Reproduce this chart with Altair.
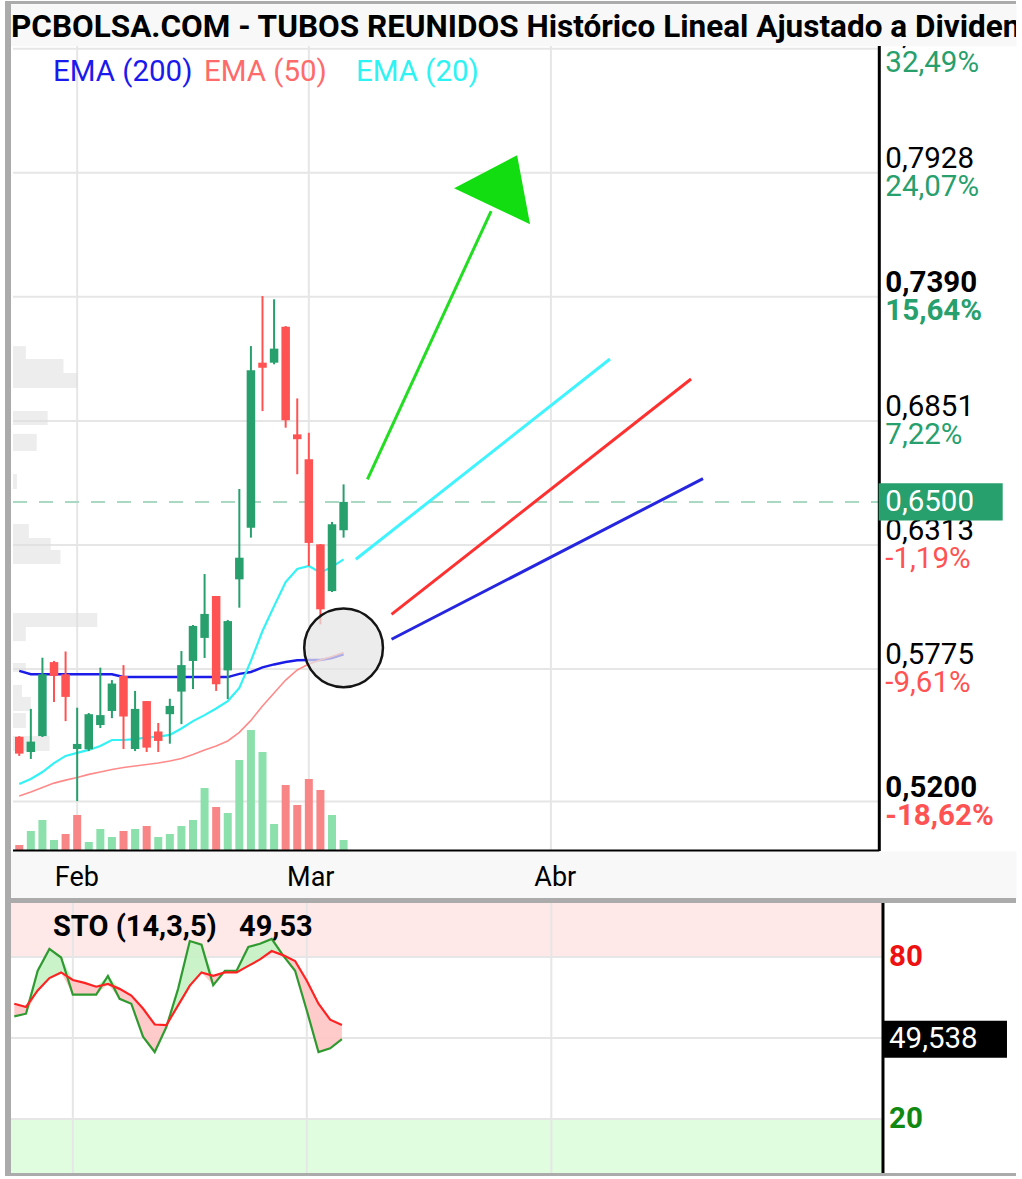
import altair as alt
import pandas as pd

TITLE = "PCBOLSA.COM - TUBOS REUNIDOS Histórico Lineal Ajustado a Dividendos"

# ---------------- data ----------------
sessions = list(range(29))
opens = [0.5481, 0.5415, 0.5484, 0.5805, 0.5752, 0.5428, 0.5427, 0.5532, 0.5593, 0.5745,
         0.5428, 0.5636, 0.5504, 0.5579, 0.5677, 0.5810, 0.5910, 0.6092, 0.5769, 0.6164,
         0.6388, 0.7104, 0.7104, 0.7260, 0.6793, 0.6685, 0.6316, 0.6113, 0.6377]
highs = [0.5484, 0.5602, 0.5824, 0.5810, 0.5851, 0.5607, 0.5584, 0.5781, 0.5727, 0.5792,
         0.5680, 0.5636, 0.5541, 0.5646, 0.5853, 0.5966, 0.6187, 0.6092, 0.5988, 0.6556,
         0.7176, 0.7393, 0.7379, 0.7263, 0.6949, 0.6800, 0.6317, 0.6413, 0.6576]
lows = [0.5398, 0.5385, 0.5480, 0.5632, 0.5549, 0.5202, 0.5419, 0.5519, 0.5562, 0.5428,
        0.5419, 0.5415, 0.5415, 0.5451, 0.5536, 0.5688, 0.5823, 0.5680, 0.5645, 0.6041,
        0.6345, 0.6894, 0.7097, 0.6822, 0.6620, 0.6222, 0.5969, 0.6109, 0.6345]
closes = [0.5408, 0.5460, 0.5752, 0.5745, 0.5654, 0.5450, 0.5579, 0.5575, 0.5712, 0.5569,
          0.5602, 0.5434, 0.5463, 0.5615, 0.5792, 0.5962, 0.6014, 0.5709, 0.5983, 0.6258,
          0.7071, 0.7082, 0.7165, 0.6854, 0.6772, 0.6322, 0.6034, 0.6403, 0.6500]
volumes = [60, 200, 310, 110, 170, 360, 90, 220, 140, 200, 220, 250, 140, 170, 250, 310,
           630, 440, 380, 910, 1210, 990, 270, 660, 460, 720, 610, 360, 110]
vol_up = [0, 1, 1, 1, 0, 0, 1, 1, 1, 0, 1, 0, 1, 1, 1, 1, 1, 0, 1, 1, 1, 1, 1, 0, 0, 0, 0, 1, 1]

ema200 = [0.5767, 0.5752, 0.5752, 0.5752, 0.5752, 0.5752, 0.5752, 0.5752, 0.5752, 0.5740,
          0.5740, 0.5740, 0.5740, 0.5740, 0.5740, 0.5740, 0.5740, 0.5740, 0.5740, 0.5754,
          0.5762, 0.5782, 0.5795, 0.5805, 0.5813, 0.5814, 0.5814, 0.5823, 0.5839]
ema50 = [0.5224, 0.5241, 0.5261, 0.5280, 0.5293, 0.5304, 0.5318, 0.5328, 0.5339, 0.5348,
         0.5354, 0.5361, 0.5367, 0.5376, 0.5387, 0.5404, 0.5424, 0.5441, 0.5463, 0.5500,
         0.5552, 0.5615, 0.5671, 0.5727, 0.5771, 0.5797, 0.5814, 0.5829, 0.5847]
ema20 = [0.5276, 0.5298, 0.5328, 0.5367, 0.5398, 0.5411, 0.5424, 0.5441, 0.5467, 0.5467,
         0.5471, 0.5478, 0.5482, 0.5489, 0.5517, 0.5549, 0.5575, 0.5604, 0.5636, 0.5693,
         0.5810, 0.5940, 0.6048, 0.6152, 0.6209, 0.6222, 0.6194, 0.6218, 0.6251]

sto_k = [58.0, 59.0, 74.9, 83.0, 79.8, 66.1, 66.1, 66.1, 73.0, 64.5, 62.7, 50.5, 44.8, 54.1,
         68.2, 85.9, 84.6, 69.6, 74.9, 74.9, 83.7, 84.9, 86.7, 80.4, 74.9, 60.2, 44.8, 46.2, 49.54]
sto_d = [62.7, 61.5, 67.6, 72.2, 74.3, 71.5, 70.4, 69.0, 70.0, 68.2, 65.7, 60.9, 55.0, 54.8,
         62.1, 69.4, 74.3, 73.0, 74.3, 74.3, 76.7, 79.1, 82.2, 80.6, 78.5, 71.2, 62.7, 56.8, 54.8]
sto_name = "STO (14,3,5)"
sto_short = "49,53"
sto_last = 49.538

# volume-at-price profile (price band low/high, length in session units)
prof_lo = [0.7120, 0.7059, 0.6994, 0.6834, 0.6721, 0.6556, 0.6343, 0.6291, 0.6231, 0.5957,
           0.5896, 0.5762, 0.5654, 0.5593, 0.5519, 0.5419]
prof_hi = [0.7176, 0.7120, 0.7059, 0.6894, 0.6795, 0.6621, 0.6404, 0.6343, 0.6291, 0.6018,
           0.5957, 0.5801, 0.5706, 0.5654, 0.5584, 0.5484]
prof_len = [0.57, 3.82, 5.02, 2.45, 1.51, -0.20, 0.83, 2.71, 3.56, 6.73,
            0.57, 0.57, 0.23, 1.00, 0.57, 2.62]

level_prices = [0.8466, 0.7928, 0.7390, 0.6851, 0.6313, 0.5775, 0.5200]
level_pcts = [32.49, 24.07, 15.64, 7.22, -1.19, -9.61, -18.62]
level_bold = [False, False, True, False, False, False, True]

month_labels = ["Feb", "Mar", "Abr"]
month_pos = [5, 25, 45.9]

# trend projections (session, price)
proj20_i, proj20_p = [29.06, 51.0], [0.6251, 0.7120]
proj50_i, proj50_p = [32.14, 58.0], [0.6012, 0.7033]
proj200_i, proj200_p = [32.14, 59.03], [0.5904, 0.6601]
arrow_i, arrow_p = [30.06, 40.74], [0.6598, 0.7762]
arrow_head = (41.54, 0.7857)
circle_pt = (28.0, 0.5867)

last_price = closes[-1]

# ---------------- styling ----------------
XMIN, XMAX, XAXIS, XBOX = -0.54, 85.62, 74.25, 79.55
PMIN, PMAX = 0.49855, 0.84779
VOLMAX = 8050.0
W = 1008
GRID = "#e6e6e6"
UP, DOWN = "#27a06d", "#ff5252"
VUP, VDOWN = "#8be0ab", "#f98686"
FONT = "Roboto"
LBL = 29.5

xs = alt.Scale(domain=[XMIN, XMAX], nice=False, zero=False)
ys = alt.Scale(domain=[PMIN, PMAX], nice=False, zero=False)
sy = alt.Scale(domain=[0, 100], nice=False, zero=False)


def X(f):
    return alt.X(f, type="quantitative", scale=xs, axis=None)


def Y(f, sc=ys):
    return alt.Y(f, type="quantitative", scale=sc, axis=None)


def df(**cols):
    d = pd.DataFrame(cols)
    d["x0"] = XMIN
    d["xa"] = XAXIS
    d["xb"] = XBOX
    return d


cdf = df(i=sessions, open=opens, high=highs, low=lows, close=closes, vol=volumes, vup=vol_up)
cdf["up"] = cdf["close"] >= cdf["open"]
months = df(pos=month_pos, label=month_labels)
levels = df(price=level_prices, pct=level_pcts, bold=level_bold,
            plab=[f"{p:.4f}".replace(".", ",") for p in level_prices],
            pctlab=[f"{v:.2f}%".replace(".", ",") for v in level_pcts])
prof = df(lo=prof_lo, hi=prof_hi, len=prof_len)
emas = df(i=sessions, e200=ema200, e50=ema50, e20=ema20)
lastdf = df(p=[last_price], t=[f"{last_price:.4f}".replace('.', ',')])
edges = df(pmin=[PMIN])

candle_color = alt.condition("datum.up", alt.value(UP), alt.value(DOWN))

# ---------------- main panel ----------------
vgrid = alt.Chart(months).mark_rule(color=GRID, strokeWidth=2).encode(x=X("pos"))
hgrid = alt.Chart(levels).mark_rule(color=GRID, strokeWidth=2).encode(
    x=X("x0"), x2="xa:Q", y=Y("price"))
profile = alt.Chart(prof).mark_rect(color="#dcdcdc", opacity=0.5).encode(
    x=X("x0"), x2="len:Q", y=Y("lo"), y2="hi:Q")
# volume drawn on its own vertical range at the bottom of the price panel
volbars = alt.Chart(cdf).transform_calculate(
    vtop=f"{PMIN} + datum.vol * {(PMAX - PMIN) / VOLMAX}", vbase=f"{PMIN}").mark_bar(size=8).encode(
    x=X("i"), y=Y("vtop"), y2="vbase:Q",
    color=alt.condition("datum.vup == 1", alt.value(VUP), alt.value(VDOWN)))
lastline = alt.Chart(lastdf).mark_rule(
    color="#a9d9c2", strokeWidth=2, strokeDash=[14, 12]).encode(
    x=X("x0"), x2="xa:Q", y=Y("p"))
l200 = alt.Chart(emas).mark_line(color="#1c1ce8", strokeWidth=2.5).encode(x=X("i"), y=Y("e200"))
l50 = alt.Chart(emas).mark_line(color="#ff8a8a", strokeWidth=1.6).encode(x=X("i"), y=Y("e50"))
l20 = alt.Chart(emas).mark_line(color="#33f2f5", strokeWidth=2.2).encode(x=X("i"), y=Y("e20"))
wicks = alt.Chart(cdf).mark_rule(strokeWidth=2).encode(
    x=X("i"), y=Y("low"), y2="high:Q", color=candle_color)
bodies = alt.Chart(cdf).mark_bar(size=8.5).encode(
    x=X("i"), y=Y("open"), y2="close:Q", color=candle_color)
circle = alt.Chart(df(i=[circle_pt[0]], p=[circle_pt[1]])).mark_point(
    shape="circle", size=6200, filled=True, fill="#e4e4e4", fillOpacity=0.72,
    stroke="#151515", strokeWidth=2.5, opacity=1).encode(x=X("i"), y=Y("p"))


def seg(ii, pp, color, width=3):
    return alt.Chart(df(i=ii, p=pp)).mark_line(
        color=color, strokeWidth=width).encode(x=X("i"), y=Y("p"))


p20 = seg(proj20_i, proj20_p, "#40f4ff")
p50 = seg(proj50_i, proj50_p, "#ff3030")
p200 = seg(proj200_i, proj200_p, "#2626e0")
parrow = seg(arrow_i, arrow_p, "#22dd22")
phead = alt.Chart(df(i=[arrow_head[0]], p=[arrow_head[1]])).mark_point(
    shape="M-1,-0.02L0.36,-0.73L0.64,0.76Z", size=8575, filled=True,
    fill="#11dd11", opacity=1, strokeWidth=0).encode(x=X("i"), y=Y("p"))

raxis = alt.Chart(edges).mark_rule(color="black", strokeWidth=3).encode(x=X("xa"))
baxis = alt.Chart(edges).mark_rule(color="black", strokeWidth=3).encode(
    x=X("x0"), x2="xa:Q", y=Y("pmin"))

plab_n = alt.Chart(levels).transform_filter("!datum.bold").mark_text(
    align="left", baseline="middle", dx=6, dy=-14, fontSize=LBL, font=FONT, clip=True,
    color="black").encode(x=X("xa"), y=Y("price"), text="plab:N")
plab_b = alt.Chart(levels).transform_filter("datum.bold").mark_text(
    align="left", baseline="middle", dx=6, dy=-14, fontSize=LBL, font=FONT, fontWeight="bold",
    clip=True, color="black").encode(x=X("xa"), y=Y("price"), text="plab:N")
pct_color = alt.condition("datum.pct >= 0", alt.value(UP), alt.value(DOWN))
pct_n = alt.Chart(levels).transform_filter("!datum.bold").mark_text(
    align="left", baseline="middle", dx=6, dy=14, fontSize=LBL, font=FONT, clip=True).encode(
    x=X("xa"), y=Y("price"), text="pctlab:N", color=pct_color)
pct_b = alt.Chart(levels).transform_filter("datum.bold").mark_text(
    align="left", baseline="middle", dx=6, dy=14, fontSize=LBL, font=FONT, fontWeight="bold",
    clip=True).encode(x=X("xa"), y=Y("price"), text="pctlab:N", color=pct_color)

lastbox = alt.Chart(lastdf).mark_point(
    shape="M-1,-0.3L1,-0.3L1,0.3L-1,0.3Z", size=15376, filled=True, fill=UP,
    opacity=1, strokeWidth=0).encode(x=X("xb"), y=Y("p"))
lasttxt = alt.Chart(lastdf).mark_text(
    align="left", baseline="middle", dx=6, fontSize=LBL, font=FONT, color="white").encode(
    x=X("xa"), y=Y("p"), text="t:N")

legend_names = ["EMA (200)", "EMA (50)", "EMA (20)"]
legend_colors = ["#1a1aee", "#ff6a6a", "#2df3f3"]
legend_x = [45, 196, 348]
legend = [alt.Chart(pd.DataFrame({"t": [n]})).mark_text(
    align="left", baseline="middle", fontSize=29.5, font=FONT, color=c).encode(
    x=alt.value(xp), y=alt.value(26), text="t:N")
    for n, c, xp in zip(legend_names, legend_colors, legend_x)]

main = alt.layer(
    vgrid, hgrid, profile, volbars, lastline, l200, l50, l20, wicks, bodies, circle,
    p20, p50, p200, parrow, phead, raxis, baxis, plab_n, plab_b, pct_n, pct_b,
    lastbox, lasttxt, *legend).properties(
    width=W, height=805, view=alt.ViewBackground(fill="white", stroke="transparent"))

# ---------------- title & axis band ----------------
title = alt.Chart(pd.DataFrame({"t": [TITLE]})).mark_text(
    align="left", baseline="middle", fontSize=31.5, font=FONT, fontWeight="bold",
    color="black", clip=True).encode(x=alt.value(3), y=alt.value(24), text="t:N").properties(
    width=W, height=42, view=alt.ViewBackground(fill="#f8f8f8", stroke="transparent"))

band = alt.Chart(months).mark_text(
    baseline="middle", fontSize=27, font=FONT, color="black", dx=4).encode(
    x=X("pos"), y=alt.value(27), text="label:N").properties(
    width=W, height=47, view=alt.ViewBackground(fill="#f8f8f8", stroke="transparent"))


def filler(w, h, color):
    return alt.Chart(pd.DataFrame({"a": [0]})).mark_rect(color=color).encode(
        x=alt.value(0), x2=alt.value(w), y=alt.value(0), y2=alt.value(h)).properties(
        width=w, height=h)


# ---------------- stochastic panel ----------------
sdf = df(i=sessions, k=sto_k, d=sto_d)
bands = alt.Chart(df(lo=[80, 0], hi=[100, 20], c=["#ffe8e8", "#e0fde0"])).mark_rect().encode(
    x=X("x0"), x2="xa:Q", y=Y("lo", sy), y2="hi:Q", color=alt.Color("c:N", scale=None))
s_hgrid = alt.Chart(df(v=[80, 50, 20])).mark_rule(color=GRID, strokeWidth=2).encode(
    x=X("x0"), x2="xa:Q", y=Y("v", sy))
s_vgrid = alt.Chart(months).mark_rule(color=GRID, strokeWidth=2).encode(x=X("pos"))
g_area = alt.Chart(sdf).transform_calculate(hi="max(datum.k, datum.d)").mark_area(
    color="#c4f2c4", opacity=0.9).encode(x=X("i"), y=Y("d", sy), y2="hi:Q")
r_area = alt.Chart(sdf).transform_calculate(lo="min(datum.k, datum.d)").mark_area(
    color="#ffc4c4", opacity=0.9).encode(x=X("i"), y=Y("lo", sy), y2="d:Q")
k_line = alt.Chart(sdf).mark_line(color="#2f9a2f", strokeWidth=2.2).encode(x=X("i"), y=Y("k", sy))
d_line = alt.Chart(sdf).mark_line(color="#ff2222", strokeWidth=2.2).encode(x=X("i"), y=Y("d", sy))
s_raxis = alt.Chart(edges).mark_rule(color="black", strokeWidth=3).encode(x=X("xa"))
s_levels = alt.Chart(df(v=[80, 20], t=["80", "20"], c=["#ee1111", "#118811"], off=[0, 3])).mark_text(
    align="left", baseline="middle", dx=6, fontSize=LBL, font=FONT, fontWeight="bold").encode(
    x=X("xa"), y=Y("v", sy), text="t:N", color=alt.Color("c:N", scale=None))
stodf = df(v=[sto_last], t=[f"{sto_last:.3f}".replace('.', ',')])
s_box = alt.Chart(stodf).mark_point(
    shape="M-1,-0.3L1,-0.3L1,0.3L-1,0.3Z", size=15376, filled=True, fill="black",
    opacity=1, strokeWidth=0).encode(x=X("xb"), y=Y("v", sy))
s_boxtxt = alt.Chart(stodf).mark_text(
    align="left", baseline="middle", dx=6, fontSize=LBL, font=FONT, color="white").encode(
    x=X("xa"), y=Y("v", sy), text="t:N")
s_name = alt.Chart(pd.DataFrame({"t": [sto_name]})).mark_text(
    align="left", baseline="middle", fontSize=29, font=FONT, fontWeight="bold", color="black").encode(
    x=alt.value(45), y=alt.value(24), text="t:N")
s_val = alt.Chart(pd.DataFrame({"t": [sto_short]})).mark_text(
    align="left", baseline="middle", fontSize=29, font=FONT, fontWeight="bold", color="black").encode(
    x=alt.value(231), y=alt.value(24), text="t:N")

stoch = alt.layer(bands, s_hgrid, s_vgrid, g_area, r_area, k_line, d_line, s_raxis,
                  s_levels, s_box, s_boxtxt, s_name, s_val).properties(
    width=W, height=270, view=alt.ViewBackground(fill="white", stroke="transparent"))

FRAME = "#ababab"
col = alt.vconcat(filler(W, 3, FRAME), title, main, band, filler(W, 5, FRAME), stoch,
                  filler(W, 3, FRAME), spacing=0, bounds="flush")
chart = alt.hconcat(filler(3, 1175, FRAME), col, filler(3, 1175, FRAME),
                    spacing=0, bounds="flush").properties(
    padding={"left": 4, "right": 4, "top": 0, "bottom": 4}, background="white"
).configure_view(stroke="transparent")

chart.save("out.html", embed_options={"renderer": "svg", "actions": False})
